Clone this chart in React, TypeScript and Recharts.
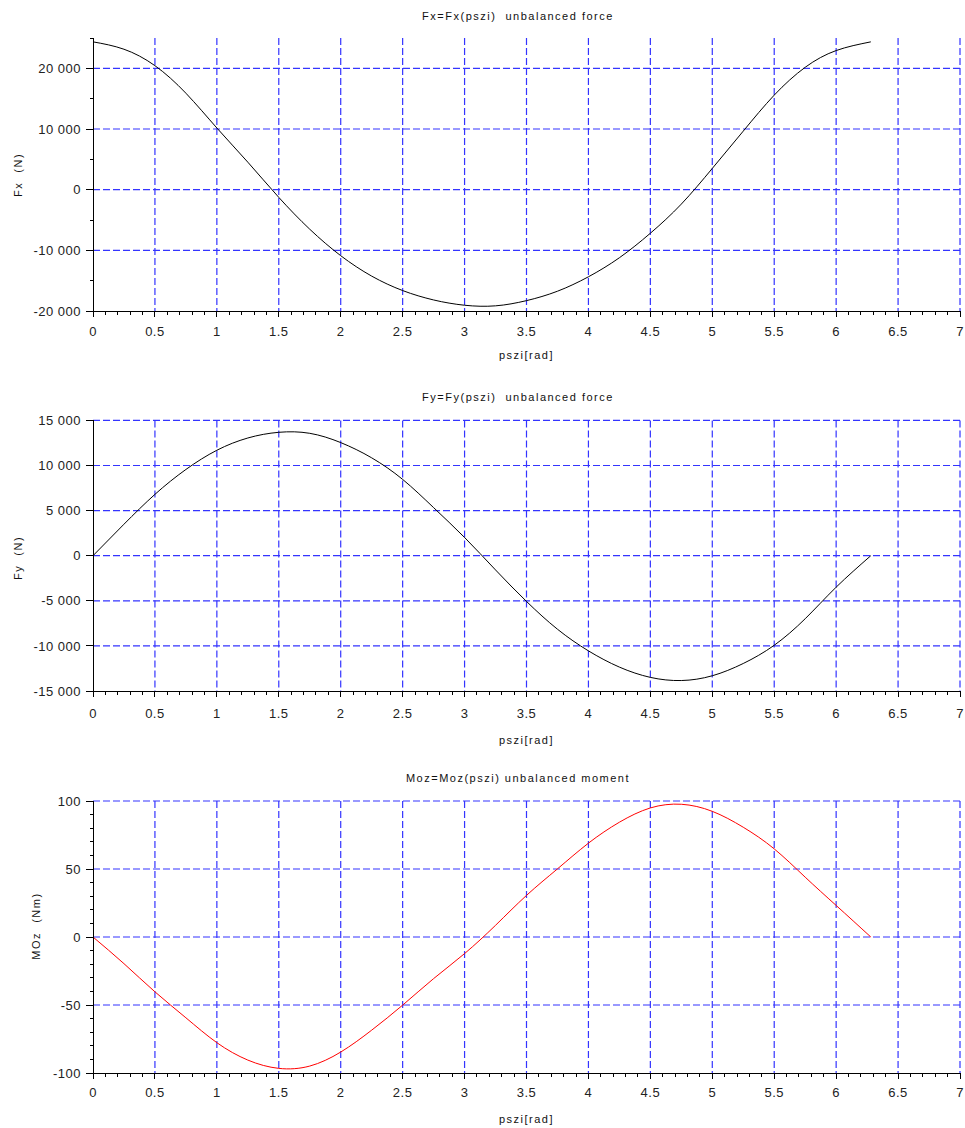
import React from "react";
import { LineChart, Line, XAxis, YAxis, CartesianGrid, Label } from "recharts";

// pszi [rad] sample points
const pszi = [
  0, 0.25, 0.5, 0.75, 1, 1.25, 1.5, 1.75, 2, 2.25, 2.5, 2.75, 3, 3.25, 3.5,
  3.75, 4, 4.25, 4.5, 4.75, 5, 5.25, 5.5, 5.75, 6, 6.28,
];

// Fx (N)
const fxValues = [
  24365, 23150, 20440, 15900, 10170, 4530, -1270, -6520, -10880, -14250,
  -16630, -18180, -19050, -19150, -18290, -16740, -14360, -11220, -7180, -2380,
  3500, 9650, 15580, 20170, 22930, 24365,
];

// Fy (N)
const fyValues = [
  0, 3490, 6800, 9560, 11690, 13050, 13680, 13570, 12540, 10850, 8460, 5330,
  2020, -1580, -5070, -8150, -10550, -12350, -13490, -13840, -13310, -11950,
  -9930, -6990, -3490, 0,
];

// MOz (Nm)
const mozValues = [
  0, -19.6, -40.3, -59.4, -77.7, -90.5, -96.6, -94.9, -84.6, -68.5, -50.1,
  -30.6, -12.2, 8.6, 30.6, 50.1, 69.0, 84.4, 94.9, 97.6, 92.4, 80.7, 64.8,
  44.0, 23.2, 0,
];

const xTicks = [0, 0.5, 1, 1.5, 2, 2.5, 3, 3.5, 4, 4.5, 5, 5.5, 6, 6.5, 7];
const xAllTicks = Array.from({ length: 71 }, (_, i) => i / 10);

const fxTicks = [-20000, -10000, 0, 10000, 20000];
const fxAllTicks = [-20000, -15000, -10000, -5000, 0, 5000, 10000, 15000, 20000, 25000];
const fyTicks = [-15000, -10000, -5000, 0, 5000, 10000, 15000];
const mozTicks = [-100, -50, 0, 50, 100];
const mozAllTicks = Array.from({ length: 21 }, (_, i) => -100 + i * 10);

const FONT = '"Liberation Sans", Arial, Helvetica, sans-serif';
const GRID = "#3434ff";

const fmt = (v: number) => {
  const s = Math.abs(v)
    .toString()
    .replace(/\B(?=(\d{3})+(?!\d))/g, " ");
  return (v < 0 ? "-" : "") + s;
};

const tickText = { fontSize: 13, fill: "#222", fontFamily: FONT, letterSpacing: 0.5 };

const isHalf = (v: number) => Math.abs(v * 2 - Math.round(v * 2)) < 1e-9;

type PanelProps = {
  top: number;
  height: number;
  marginTop: number;
  xAxisHeight: number;
  title: string;
  titleY: number;
  yLabel: string;
  yLabelX: number;
  yLabelY: number;
  xLabelDy: number;
  xTickDy: number;
  values: number[];
  color: string;
  yDomain: [number, number];
  yTicks: number[];
  yAllTicks: number[];
};

function Panel(p: PanelProps) {
  const data = pszi.map((x, i) => ({ x, v: p.values[i] }));

  const XTick = (props: any) => {
    const { x, y, payload } = props;
    const major = isHalf(payload.value);
    return (
      <g>
        <line
          x1={x}
          x2={x}
          y1={y}
          y2={y + (major ? 6 : 4)}
          stroke="#000"
          shapeRendering="crispEdges"
        />
        {major && (
          <text x={x} y={y + p.xTickDy} textAnchor="middle" {...tickText}>
            {String(payload.value)}
          </text>
        )}
      </g>
    );
  };

  const YTick = (props: any) => {
    const { x, y, payload } = props;
    const major = p.yTicks.includes(payload.value);
    return (
      <g>
        <line
          x1={x}
          x2={x - (major ? 7 : 3)}
          y1={y}
          y2={y}
          stroke="#000"
          shapeRendering="crispEdges"
        />
        {major && (
          <text x={x - 12} y={y} dy="0.36em" textAnchor="end" {...tickText}>
            {fmt(payload.value)}
          </text>
        )}
      </g>
    );
  };

  return (
    <div style={{ position: "absolute", left: 0, top: p.top, width: 965, height: p.height }}>
      <div
        style={{
          position: "absolute",
          left: 268,
          width: 500,
          top: p.titleY - 7,
          textAlign: "center",
          fontFamily: FONT,
          fontSize: 11,
          letterSpacing: 1.5,
          whiteSpace: "pre",
          color: "#111",
          lineHeight: "14px",
        }}
      >
        {p.title}
      </div>
      <LineChart
        width={965}
        height={p.height}
        data={data}
        margin={{ top: p.marginTop, right: 5, bottom: 0, left: 0 }}
      >
        <CartesianGrid
          stroke={GRID}
          strokeDasharray="7 3"
          strokeWidth={1.2}
          horizontalValues={p.yTicks.filter((v) => v !== p.yDomain[0])}
          verticalValues={xTicks.filter((v) => v !== 0)}
        />
        <XAxis
          type="number"
          dataKey="x"
          domain={[0, 7]}
          ticks={xAllTicks}
          interval={0}
          height={p.xAxisHeight}
          tickSize={0}
          tickMargin={0}
          tickLine={false}
          axisLine={{ stroke: "#000", shapeRendering: "crispEdges" }}
          tick={<XTick />}
        >
          <Label
            content={({ viewBox }: any) => (
              <text
                x={viewBox.x + viewBox.width / 2}
                y={viewBox.y + p.xLabelDy}
                textAnchor="middle"
                fontFamily={FONT}
                fontSize={11}
                letterSpacing={1.5}
                fill="#111"
              >
                pszi[rad]
              </text>
            )}
          />
        </XAxis>
        <YAxis
          type="number"
          domain={p.yDomain}
          ticks={p.yAllTicks}
          interval={0}
          width={93}
          tickSize={0}
          tickMargin={0}
          tickLine={false}
          axisLine={{ stroke: "#000", shapeRendering: "crispEdges" }}
          tick={<YTick />}
          allowDataOverflow
        >
          <Label
            content={() => (
              <text
                x={p.yLabelX}
                y={p.yLabelY}
                transform={`rotate(-90 ${p.yLabelX} ${p.yLabelY})`}
                textAnchor="middle"
                dominantBaseline="central"
                fontFamily={FONT}
                fontSize={11}
                letterSpacing={1.5}
                fill="#111"
                style={{ whiteSpace: "pre" }}
              >
                {p.yLabel}
              </text>
            )}
          />
        </YAxis>
        <Line
          type="natural"
          dataKey="v"
          stroke={p.color}
          strokeWidth={1}
          dot={false}
          isAnimationActive={false}
        />
      </LineChart>
    </div>
  );
}

export default function App() {
  return (
    <div
      style={{
        position: "absolute",
        left: 0,
        top: 0,
        width: 965,
        height: 1128,
        background: "#fff",
        overflow: "hidden",
      }}
    >
      <Panel
        top={0}
        height={375}
        marginTop={38}
        xAxisHeight={64}
        title="Fx=Fx(pszi)  unbalanced force"
        titleY={16}
        yLabel="Fx  (N)"
        yLabelX={18}
        yLabelY={175}
        xLabelDy={48}
        xTickDy={25}
        values={fxValues}
        color="#000"
        yDomain={[-20000, 25000]}
        yTicks={fxTicks}
        yAllTicks={fxAllTicks}
      />
      <Panel
        top={375}
        height={380}
        marginTop={45.4}
        xAxisHeight={64}
        title="Fy=Fy(pszi)  unbalanced force"
        titleY={22}
        yLabel="Fy  (N)"
        yLabelX={18}
        yLabelY={183}
        xLabelDy={53}
        xTickDy={27}
        values={fyValues}
        color="#000"
        yDomain={[-15000, 15000]}
        yTicks={fyTicks}
        yAllTicks={fyTicks}
      />
      <Panel
        top={755}
        height={373}
        marginTop={46}
        xAxisHeight={55}
        title="Moz=Moz(pszi) unbalanced moment"
        titleY={23}
        yLabel="MOz  (Nm)"
        yLabelX={36}
        yLabelY={171}
        xLabelDy={50}
        xTickDy={24}
        values={mozValues}
        color="#ff0000"
        yDomain={[-100, 100]}
        yTicks={mozTicks}
        yAllTicks={mozAllTicks}
      />
    </div>
  );
}
